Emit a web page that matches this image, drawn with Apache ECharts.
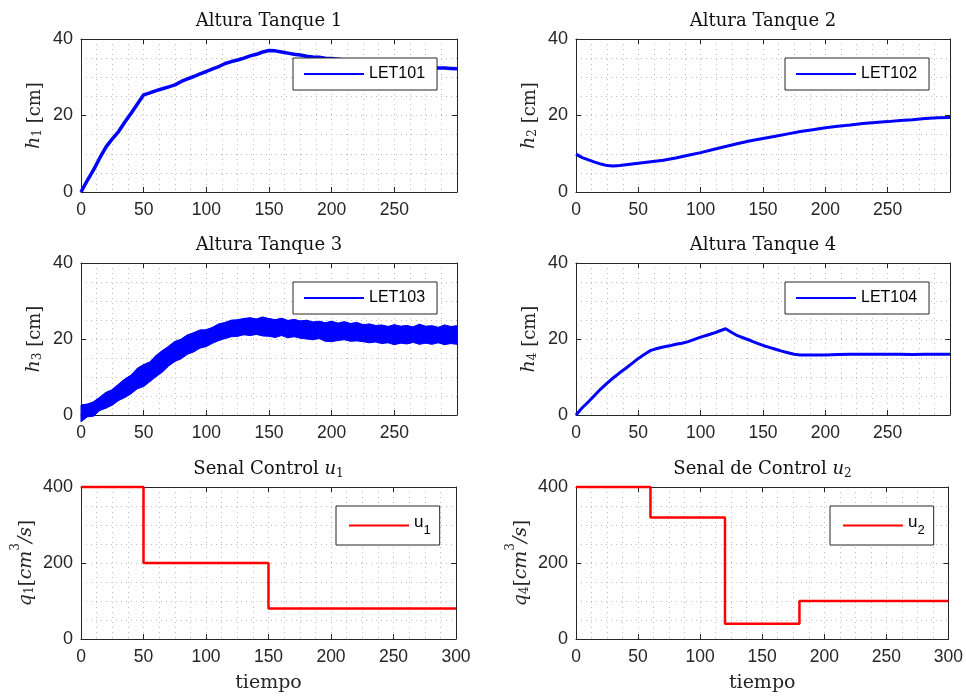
<!DOCTYPE html>
<html>
<head>
<meta charset="utf-8">
<script src="https://cdn.jsdelivr.net/npm/echarts@6/dist/echarts.min.js"></script>
<style>
  html, body { margin: 0; padding: 0; background: #ffffff; }
  #chart { width: 966px; height: 697px; }
</style>
</head>
<body>
<div id="chart"></div>
<script>
// ---- Tank levels (cm) against time (s) ----
const tank1Time = [0,5,10,15,20,25,30,35,40,45,50,55,60,65,70,75,80,85,90,95,100,105,110,115,120,125,130,135,140,145,150,155,160,165,170,175,180,185,190,195,200,205,210,215,220,225,230,235,240,245,250,255,260,265,270,275,280,285,290,295,300];
const tank1Level = [0,3.0,5.8,8.9,11.8,13.9,15.8,18.3,20.6,23.0,25.4,25.9,26.5,27.0,27.5,28.0,28.9,29.6,30.2,30.9,31.5,32.2,32.8,33.6,34.1,34.5,35.0,35.6,36.0,36.6,37.0,36.9,36.6,36.3,36.0,35.8,35.5,35.3,35.2,35.0,34.9,34.7,34.5,34.3,34.1,33.9,33.8,33.6,33.4,33.3,33.1,33.0,32.9,32.8,32.7,32.6,32.5,32.4,32.4,32.3,32.2];

const tank2Time = [0,5,10,15,20,25,30,35,40,45,50,60,70,80,90,100,110,120,130,140,150,160,170,180,190,200,210,220,230,240,250,260,270,280,290,300];
const tank2Level = [9.9,9.0,8.4,7.8,7.3,6.9,6.8,6.9,7.1,7.3,7.5,7.9,8.3,8.9,9.6,10.3,11.1,11.9,12.7,13.4,14.0,14.6,15.2,15.8,16.3,16.8,17.2,17.5,17.9,18.2,18.4,18.7,18.9,19.2,19.4,19.5];

// Tank 3 is very noisy: lower and upper edges of the signal band
const tank3Time = [0,5,10,15,20,25,30,35,40,45,50,55,60,65,70,75,80,85,90,95,100,105,110,115,120,125,130,135,140,145,150,155,160,165,170,175,180,185,190,195,200,205,210,215,220,225,230,235,240,245,250,255,260,265,270,275,280,285,290,295,300];
const tank3Low  = [-1.8,-0.5,-0.3,1.2,1.8,2.6,3.8,4.6,5.6,6.9,7.5,8.8,10.1,11.3,12.9,14.1,14.8,16.0,16.6,17.6,18.0,18.9,19.6,20.1,20.6,20.7,21.1,20.9,21.2,20.8,20.7,20.4,20.9,20.3,20.6,20.2,20.0,19.8,20.1,19.4,19.3,19.6,19.8,19.4,19.5,19.3,19.0,19.2,18.8,19.0,18.5,18.9,18.7,19.1,18.6,18.9,18.6,19.0,18.5,18.8,18.6];
const tank3High = [2.6,2.8,3.4,4.6,5.9,6.6,8.0,9.4,10.4,12.2,13.2,13.9,15.6,16.9,18.0,19.3,19.9,21.0,21.6,22.3,22.4,23.0,23.9,24.3,24.9,25.0,25.3,25.5,25.2,25.7,25.3,25.0,25.4,24.8,25.1,24.7,24.9,24.4,24.6,24.2,24.6,24.1,24.5,24.0,24.3,23.7,23.9,23.5,23.6,23.2,23.7,23.3,23.5,23.1,23.8,23.3,23.4,23.0,23.6,23.2,23.4];

const tank4Time = [0,5,10,15,20,25,30,35,40,45,50,55,60,65,70,75,80,85,90,95,100,105,110,115,120,125,130,135,140,145,150,155,160,165,170,175,180,190,200,210,220,230,240,250,260,270,280,290,300];
const tank4Level = [0,1.9,3.5,5.2,6.9,8.4,9.8,11.1,12.3,13.6,14.9,16.0,17.0,17.5,17.9,18.2,18.6,18.9,19.3,19.9,20.5,21.0,21.5,22.1,22.7,21.7,20.8,20.2,19.6,18.9,18.3,17.8,17.3,16.8,16.4,16.0,15.8,15.8,15.8,15.9,16.0,16.0,16.0,16.0,16.0,15.9,16.0,16.0,16.0];

// ---- Control signals (cm^3/s), piecewise constant ----
const u1Time = [0,50,150,300];
const u1Value = [400,200,80,80];
const u2Time = [0,60,120,180,300];
const u2Value = [400,320,40,100,100];

// ---- Axis ticks ----
const timeTicks = [0,50,100,150,200,250,300];
const levelTicks = [0,20,40];
const flowTicks = [0,200,400];

const levelTitles = ['Altura Tanque 1','Altura Tanque 2','Altura Tanque 3','Altura Tanque 4'];
const levelNames = ['LET101','LET102','LET103','LET104'];

const AX = '#262626';
const GRIDC = '#bdbdbd';
const SANS = '"Liberation Sans", Arial, Helvetica, sans-serif';
const SERIF = '"DejaVu Serif", serif';

const pairs = (xs, ys) => xs.map((x, i) => [x, ys[i]]);

// six panels: 3 rows x 2 columns
const panels = [
  { left: 81,  top: 39,  width: 376, height: 153 },
  { left: 576, top: 39,  width: 374, height: 153 },
  { left: 81,  top: 263, width: 376, height: 152 },
  { left: 576, top: 263, width: 374, height: 152 },
  { left: 81,  top: 487, width: 375, height: 152 },
  { left: 576, top: 487, width: 373, height: 152 }
];

const mathRich = {
  i: { fontFamily: SERIF, fontStyle: 'italic', fontSize: 19, color: AX, verticalAlign: 'bottom', lineHeight: 22 },
  s: { fontFamily: SERIF, fontSize: 12, color: AX, verticalAlign: 'bottom', lineHeight: 16 },
  p: { fontFamily: SERIF, fontSize: 12, color: AX, verticalAlign: 'top', lineHeight: 26 },
  r: { fontFamily: SERIF, fontSize: 18, color: AX, verticalAlign: 'bottom', lineHeight: 22 }
};

const xAxes = [], yAxes = [], titles = [], legends = [], series = [];

panels.forEach((g, k) => {
  const isFlow = k >= 4;
  const yMax = isFlow ? 400 : 40;
  const yInt = isFlow ? 200 : 20;
  const yTickSet = isFlow ? flowTicks : levelTicks;
  const common = {
    gridIndex: k,
    axisLine: { show: true, onZero: false, lineStyle: { color: AX, width: 1 } },
    axisTick: { show: true, inside: true, length: 5, lineStyle: { color: AX } },
    minorTick: { show: false, splitNumber: 4 }
  };
  xAxes.push(Object.assign({}, common, {
    type: 'value', position: 'bottom', min: 0, max: 300, interval: 50,
    axisLabel: {
      color: AX, fontFamily: SANS, fontSize: 17.5, margin: 9,
      formatter: v => (timeTicks.includes(v) && (isFlow || v < 300)) ? String(v) : ''
    },
    splitLine: { show: true, lineStyle: { color: GRIDC, type: [1, 4], width: 1 } },
    minorSplitLine: { show: true, lineStyle: { color: GRIDC, type: [1, 4], width: 1 } },
    name: isFlow ? 'tiempo' : '',
    nameLocation: 'middle', nameGap: 35,
    nameTextStyle: { fontFamily: SERIF, fontSize: 19, color: AX }
  }));
  xAxes.push(Object.assign({}, common, {
    type: 'value', position: 'top', min: 0, max: 300, interval: 50,
    axisLabel: { show: false }, splitLine: { show: false }
  }));
  const yName = isFlow
    ? '{i|q}{s|' + (k === 4 ? '1' : '4') + '}{r|[}{i|cm}{p|3}{i|/s}{r|]}'
    : '{i|h}{s|' + (k + 1) + '}{r| [cm]}';
  yAxes.push(Object.assign({}, common, {
    type: 'value', position: 'left', min: 0, max: yMax, interval: yInt,
    axisLabel: {
      color: AX, fontFamily: SANS, fontSize: 18, margin: 8,
      formatter: v => yTickSet.includes(v) ? String(v) : ''
    },
    splitLine: { show: true, lineStyle: { color: GRIDC, type: [1, 4], width: 1 } },
    minorSplitLine: { show: true, lineStyle: { color: GRIDC, type: [1, 4], width: 1 } },
    name: yName, nameLocation: 'middle', nameRotate: 90, nameGap: isFlow ? 45 : 37,
    nameTextStyle: { rich: mathRich }
  }));
  yAxes.push(Object.assign({}, common, {
    type: 'value', position: 'right', min: 0, max: yMax, interval: yInt,
    axisLabel: { show: false }, splitLine: { show: false }
  }));

  // panel title
  let titleText;
  if (k < 4) titleText = levelTitles[k];
  else titleText = (k === 4 ? '{n|Senal Control }{i|u}{s|1}' : '{n|Senal de Control }{i|u}{s|2}');
  titles.push({
    text: titleText,
    left: g.left + g.width / 2, top: g.top - 27, textAlign: 'center', padding: 0,
    textStyle: {
      fontFamily: SERIF, fontSize: 18, fontWeight: 'normal', color: '#111111',
      rich: {
        n: { fontFamily: SERIF, fontSize: 18, color: '#111111', verticalAlign: 'top', lineHeight: 20 },
        i: { fontFamily: SERIF, fontStyle: 'italic', fontSize: 18, color: '#111111', verticalAlign: 'top', lineHeight: 20 },
        s: { fontFamily: SERIF, fontSize: 12, color: '#111111', verticalAlign: 'bottom', lineHeight: 14 }
      }
    }
  });
});

// level series
const levelData = [pairs(tank1Time, tank1Level), pairs(tank2Time, tank2Level), null, pairs(tank4Time, tank4Level)];
const levelWidth = [3.5, 3, 0, 3];
[0, 1, 3].forEach(k => {
  series.push({
    name: levelNames[k], type: 'line', xAxisIndex: 2 * k, yAxisIndex: 2 * k,
    data: levelData[k], symbol: 'none', smooth: false, clip: true,
    lineStyle: { color: '#0000ff', width: levelWidth[k] }, itemStyle: { color: '#0000ff' }
  });
});

// tank 3 band: one quadrilateral per sample interval between the lower and upper edges
const tank3Segments = tank3Time.slice(0, -1).map((t, i) =>
  [t, tank3Low[i], tank3High[i], tank3Time[i + 1], tank3Low[i + 1], tank3High[i + 1]]);
series.push({
  name: 'tank3-band', type: 'custom', xAxisIndex: 4, yAxisIndex: 4,
  data: tank3Segments, encode: { x: [0, 3], y: [1, 2, 4, 5] }, silent: true,
  renderItem: (params, api) => {
    const a = api.coord([api.value(0), api.value(1)]);
    const b = api.coord([api.value(0), api.value(2)]);
    const c = api.coord([api.value(3), api.value(5)]);
    const d = api.coord([api.value(3), api.value(4)]);
    return {
      type: 'polygon', shape: { points: [a, b, c, d] },
      style: { fill: '#0000ff', stroke: '#0000ff', lineWidth: 1 }
    };
  }
});
// upper edge of the band carries the legend entry
series.push({
  name: 'LET103', type: 'line', xAxisIndex: 4, yAxisIndex: 4,
  data: pairs(tank3Time, tank3High), symbol: 'none', clip: false,
  lineStyle: { color: '#0000ff', width: 1.5 }, itemStyle: { color: '#0000ff' }
});

// control signals
series.push({
  name: 'u1', type: 'line', xAxisIndex: 8, yAxisIndex: 8, step: 'end',
  data: pairs(u1Time, u1Value), symbol: 'none', clip: false,
  lineStyle: { color: '#ff0000', width: 2.5 }, itemStyle: { color: '#ff0000' }
});
series.push({
  name: 'u2', type: 'line', xAxisIndex: 10, yAxisIndex: 10, step: 'end',
  data: pairs(u2Time, u2Value), symbol: 'none', clip: false,
  lineStyle: { color: '#ff0000', width: 2.5 }, itemStyle: { color: '#ff0000' }
});

// legends
const legendBase = {
  orient: 'vertical', itemWidth: 60, itemHeight: 14, itemGap: 0,
  backgroundColor: '#ffffff', borderColor: AX, borderWidth: 1, borderRadius: 0,
  selectedMode: false, lineStyle: { width: 2 }, itemStyle: { opacity: 0 },
  textStyle: { fontFamily: SANS, fontSize: 16, color: '#000000' }
};
const legendPos = [
  { left: 293, top: 58 }, { left: 785, top: 58 },
  { left: 293, top: 282 }, { left: 785, top: 282 }
];
levelNames.forEach((n, k) => {
  legends.push(Object.assign({}, legendBase, legendPos[k], { data: [n], padding: [8, 12, 8, 10] }));
});
[['u1', 336], ['u2', 830]].forEach(([n, x]) => {
  legends.push(Object.assign({}, legendBase, {
    left: x, top: 506, data: [n], padding: [8, 9, 8, 12],
    formatter: name => '{a|u}{b|' + name.slice(1) + '}',
    textStyle: {
      fontFamily: SANS, fontSize: 16, color: '#000000',
      rich: {
        a: { fontFamily: SANS, fontSize: 17, color: '#000000', verticalAlign: 'top', lineHeight: 14 },
        b: { fontFamily: SANS, fontSize: 13, color: '#000000', verticalAlign: 'bottom', lineHeight: 23 }
      }
    }
  }));
});

const chart = echarts.init(document.getElementById('chart'), null, { renderer: 'canvas' });
chart.setOption({
  backgroundColor: '#ffffff',
  animation: false,
  title: titles,
  grid: panels.map(g => Object.assign({ containLabel: false, show: false }, g)),
  xAxis: xAxes,
  yAxis: yAxes,
  legend: legends,
  series: series
});
</script>
</body>
</html>
